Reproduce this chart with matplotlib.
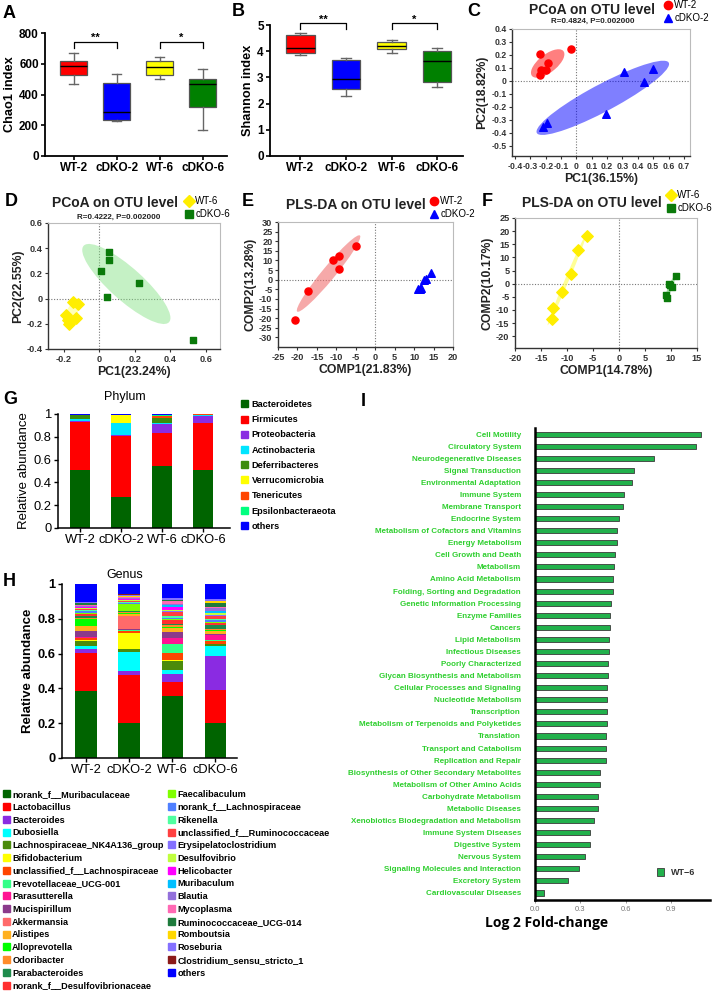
import numpy as np
import matplotlib.pyplot as plt
import matplotlib.transforms as transforms
from matplotlib.patches import Ellipse, Patch
from matplotlib.lines import Line2D
from matplotlib.ticker import FuncFormatter

plt.rcParams['font.family'] = ['Liberation Sans', 'DejaVu Sans']

# ---------------- data ----------------
groups = ['WT-2', 'cDKO-2', 'WT-6', 'cDKO-6']
box_colors = ['#ff0000', '#0000ff', '#ffff00', '#008000']

# A: Chao1 (min, q1, median, q3, max)
chao1_min = [470, 227, 499, 166]
chao1_q1 = [525, 233, 525, 316]
chao1_med = [585, 288, 578, 469]
chao1_q3 = [621, 473, 619, 501]
chao1_max = [668, 534, 643, 569]

# B: Shannon
shannon_min = [3.85, 2.30, 3.92, 2.63]
shannon_q1 = [3.95, 2.54, 4.08, 2.81]
shannon_med = [4.11, 2.95, 4.18, 3.62]
shannon_q3 = [4.62, 3.66, 4.37, 4.02]
shannon_max = [4.71, 3.75, 4.41, 4.13]

# C: PCoA WT-2 vs cDKO-2
c_wt_x = [-0.24, -0.035, -0.187, -0.23, -0.196, -0.237]
c_wt_y = [0.21, 0.245, 0.134, 0.083, 0.085, 0.046]
c_ko_x = [0.498, 0.307, 0.439, 0.19, -0.189, -0.215]
c_ko_y = [0.095, 0.067, -0.01, -0.258, -0.325, -0.356]

# D: PCoA WT-6 vs cDKO-6
d_wt_x = [-0.15, -0.12, -0.19, -0.18, -0.13, -0.17]
d_wt_y = [-0.03, -0.04, -0.13, -0.17, -0.15, -0.20]
d_ko_x = [0.056, 0.052, 0.009, 0.223, 0.043, 0.528]
d_ko_y = [0.371, 0.305, 0.218, 0.124, 0.011, -0.332]

# E: PLS-DA WT-2 vs cDKO-2
e_wt_x = [-4.9, -9.2, -10.8, -9.2, -17.2, -20.7]
e_wt_y = [17.6, 12.4, 10.3, 5.6, -5.8, -20.9]
e_ko_x = [14.4, 13.0, 12.5, 11.7, 11.0, 11.4]
e_ko_y = [3.7, 0.2, -0.2, -4.2, -4.7, -4.9]

# F: PLS-DA WT-6 vs cDKO-6
f_wt_x = [-6.2, -7.9, -9.3, -10.9, -12.7, -12.9]
f_wt_y = [18.2, 13.0, 3.7, -3.0, -9.3, -13.3]
f_ko_x = [11.0, 9.6, 10.1, 9.9, 9.1, 9.3]
f_ko_y = [2.9, -0.2, -1.1, -0.7, -4.4, -5.6]

# G: phylum
phyla = ['Bacteroidetes', 'Firmicutes', 'Proteobacteria', 'Actinobacteria',
         'Deferribacteres', 'Verrucomicrobia', 'Tenericutes',
         'Epsilonbacteraeota', 'others']
phylum_colors = ['#006400', '#ff0000', '#8a2be2', '#00e5ff', '#3c8c0c',
                 '#ffff00', '#ff4500', '#00ff7f', '#0000ff']
phylum_wt2 = [.512, .415, .013, .012, .035, .003, .002, .002, .006]
phylum_cdko2 = [.269, .535, .015, .102, .003, .064, .002, .001, .009]
phylum_wt6 = [.547, .286, .079, .009, .041, .002, .021, .009, .006]
phylum_cdko6 = [.512, .409, .059, .012, .002, .001, .001, .001, .003]

# H: genus
genera = ['norank_f__Muribaculaceae', 'Lactobacillus', 'Bacteroides', 'Dubosiella',
          'Lachnospiraceae_NK4A136_group', 'Bifidobacterium',
          'unclassified_f__Lachnospiraceae', 'Prevotellaceae_UCG-001',
          'Parasutterella', 'Mucispirillum', 'Akkermansia', 'Alistipes',
          'Alloprevotella', 'Odoribacter', 'Parabacteroides',
          'norank_f__Desulfovibrionaceae', 'Faecalibaculum',
          'norank_f__Lachnospiraceae', 'Rikenella',
          'unclassified_f__Ruminococcaceae', 'Erysipelatoclostridium',
          'Desulfovibrio', 'Helicobacter', 'Muribaculum', 'Blautia',
          'Mycoplasma', 'Ruminococcaceae_UCG-014', 'Romboutsia', 'Roseburia',
          'Clostridium_sensu_stricto_1', 'others']
genus_colors = ['#006400', '#ff0000', '#8a2be2', '#00ffff', '#4b8b0b', '#ffff00',
                '#ff4500', '#33ff88', '#ff1493', '#8b3a8b', '#ff6a6a', '#ffb01f',
                '#00ff00', '#ff8c2a', '#1e8b4c', '#ff3030', '#7fff00', '#4f7fff',
                '#4fffa0', '#ff4040', '#8470ff', '#c0ff3e', '#ff00ff', '#00bfff',
                '#9370db', '#ff69b4', '#1e7b3c', '#ffd700', '#8470ff', '#8b1a1a',
                '#0000ff']
genus_wt2 = [.386, .220, .021, .019, .029, .003, .010, .004, .004, .034, .002, .028,
             .037, .010, .010, .010, .004, .012, .006, .006, .003, .004, .003, .005,
             .004, .005, .010, .002, .003, .002, .104]
genus_cdko2 = [.200, .278, .023, .111, .013, .096, .007, .007, .003, .002, .078, .012,
               .003, .006, .004, .004, .038, .005, .004, .006, .005, .004, .002, .004,
               .006, .003, .002, .006, .006, .004, .058]
genus_wt6 = [.354, .080, .050, .023, .053, .002, .042, .054, .032, .033, .004, .020,
             .004, .012, .008, .022, .003, .010, .010, .025, .004, .008, .014, .010,
             .006, .020, .005, .002, .008, .002, .080]
genus_cdko6 = [.200, .188, .199, .059, .010, .002, .013, .008, .027, .005, .003, .015,
               .004, .008, .025, .012, .003, .012, .008, .015, .006, .010, .004, .010,
               .016, .006, .025, .012, .006, .003, .086]

# I: KEGG log2 fold change
pathways = ['Cell Motility', 'Circulatory System', 'Neurodegenerative Diseases',
            'Signal Transduction', 'Environmental Adaptation', 'Immune System',
            'Membrane Transport', 'Endocrine System',
            'Metabolism of Cofactors and Vitamins', 'Energy Metabolism',
            'Cell Growth and Death', 'Metabolism', 'Amino Acid Metabolism',
            'Folding, Sorting and Degradation', 'Genetic Information Processing',
            'Enzyme Families', 'Cancers', 'Lipid Metabolism', 'Infectious Diseases',
            'Poorly Characterized', 'Glycan Biosynthesis and Metabolism',
            'Cellular Processes and Signaling', 'Nucleotide Metabolism',
            'Transcription', 'Metabolism of Terpenoids and Polyketides',
            'Translation', 'Transport and Catabolism', 'Replication and Repair',
            'Biosynthesis of Other Secondary Metabolites',
            'Metabolism of Other Amino Acids', 'Carbohydrate Metabolism',
            'Metabolic Diseases', 'Xenobiotics Biodegradation and Metabolism',
            'Immune System Diseases', 'Digestive System', 'Nervous System',
            'Signaling Molecules and Interaction', 'Excretory System',
            'Cardiovascular Diseases']
log2fc = [1.10, 1.066, 0.79, 0.655, 0.64, 0.587, 0.58, 0.558, 0.543, 0.541,
          0.528, 0.523, 0.519, 0.514, 0.505, 0.497, 0.497, 0.492, 0.49, 0.486,
          0.486, 0.479, 0.479, 0.477, 0.475, 0.47, 0.468, 0.468, 0.428, 0.428,
          0.417, 0.415, 0.39, 0.364, 0.362, 0.329, 0.289, 0.219, 0.062]

# ---------------- figure ----------------
W, H = 715, 992
fig = plt.figure(figsize=(W / 100, H / 100), dpi=100)


def rect(l, t, r, b):
    return [l / W, 1 - b / H, (r - l) / W, (b - t) / H]


def ftext(x, y, s, **kw):
    fig.text(x / W, 1 - y / H, s, **kw)


def panel_letter(x, y, s):
    ftext(x, y, s, fontsize=13, fontweight='bold', va='center', ha='left')


# ---- A, B boxplots ----
def box_panel(ax, lo, q1, med, q3, hi, ylim, yticks, ylabel):
    pos = np.arange(1, 5)
    stats = [dict(whislo=lo[i], q1=q1[i], med=med[i], q3=q3[i], whishi=hi[i])
             for i in range(4)]
    bp = ax.bxp(stats, positions=pos, widths=0.62, patch_artist=True,
                showfliers=False, capwidths=0.22,
                boxprops=dict(edgecolor='#555555', lw=0.9),
                medianprops=dict(color='black', lw=1.0),
                whiskerprops=dict(color='#666666', lw=1.0),
                capprops=dict(color='#666666', lw=1.0))
    for patch, c in zip(bp['boxes'], box_colors):
        patch.set_facecolor(c)
    ax.set_xlim(0.33, 4.57)
    ax.set_ylim(*ylim)
    ax.set_yticks(yticks)
    ax.set_xticks(pos)
    ax.set_xticklabels(groups, fontsize=8.2, fontweight='bold')
    ax.set_ylabel(ylabel, fontsize=9.2, fontweight='bold', labelpad=2)
    for s in ['top', 'right']:
        ax.spines[s].set_visible(False)
    for s in ['left', 'bottom']:
        ax.spines[s].set_linewidth(1.3)
    ax.tick_params(labelsize=8.5, width=1.2, length=3, pad=1.5)
    for t in ax.get_yticklabels():
        t.set_fontweight('bold')


def bracket(ax, x1, x2, ytop, yleg, ytxt, txt):
    ax.plot([x1, x1, x2, x2], [yleg, ytop, ytop, yleg], color='black', lw=0.9,
            clip_on=False)
    ax.text((x1 + x2) / 2, ytxt, txt, ha='center', va='center', fontsize=8,
            fontweight='bold')


axA = fig.add_axes(rect(45, 33, 227, 156))
box_panel(axA, chao1_min, chao1_q1, chao1_med, chao1_q3, chao1_max,
          (0, 800), [0, 200, 400, 600, 800], 'Chao1 index')
bracket(axA, 1, 2, 739, 702, 770, '**')
bracket(axA, 3, 4, 739, 702, 770, '*')

axB = fig.add_axes(rect(270, 25, 463, 156))
box_panel(axB, shannon_min, shannon_q1, shannon_med, shannon_q3, shannon_max,
          (0, 5), [0, 1, 2, 3, 4, 5], 'Shannon index')
bracket(axB, 1, 2, 5.06, 4.83, 5.2, '**')
bracket(axB, 3, 4, 5.06, 4.83, 5.2, '*')

panel_letter(3, 14, 'A')
panel_letter(232, 12, 'B')


# ---- scatter panels ----
def conf_ellipse(ax, x, y, n_std, **kw):
    x = np.asarray(x)
    y = np.asarray(y)
    cov = np.cov(x, y)
    pearson = cov[0, 1] / np.sqrt(cov[0, 0] * cov[1, 1])
    ell = Ellipse((0, 0), width=2 * np.sqrt(1 + pearson),
                  height=2 * np.sqrt(1 - pearson), **kw)
    tr = (transforms.Affine2D().rotate_deg(45)
          .scale(np.sqrt(cov[0, 0]) * n_std, np.sqrt(cov[1, 1]) * n_std)
          .translate(x.mean(), y.mean()))
    ell.set_transform(tr + ax.transData)
    ax.add_patch(ell)


fmt = FuncFormatter(lambda v, p: '0' if abs(v) < 1e-9 else f'{v:g}')


def scatter_axes(ax, xlim, ylim, xticks, yticks, xlabel, ylabel, tsize=6.6):
    ax.set_xlim(*xlim)
    ax.set_ylim(*ylim)
    ax.set_xticks(xticks)
    ax.set_yticks(yticks)
    ax.xaxis.set_major_formatter(fmt)
    ax.yaxis.set_major_formatter(fmt)
    ax.axhline(0, color='#777777', lw=0.8, ls=(0, (1, 1.5)), zorder=0)
    ax.axvline(0, color='#777777', lw=0.8, ls=(0, (1, 1.5)), zorder=0)
    for s in ['top', 'right']:
        ax.spines[s].set_color('#bbbbbb')
        ax.spines[s].set_linewidth(0.8)
    for s in ['left', 'bottom']:
        ax.spines[s].set_color('#333333')
        ax.spines[s].set_linewidth(1.0)
    ax.tick_params(labelsize=tsize, length=2.5, width=0.8, pad=1.5,
                   color='#333333')
    for t in ax.get_xticklabels() + ax.get_yticklabels():
        t.set_fontweight('bold')
        t.set_color('#333333')
    ax.set_xlabel(xlabel, fontsize=8.8, fontweight='bold', labelpad=2,
                  color='#222222')
    ax.set_ylabel(ylabel, fontsize=8.8, fontweight='bold', labelpad=2,
                  color='#222222')


def side_legend(x, y, items):
    handles = [Line2D([], [], ls='none', marker=m, color=c, markersize=ms)
               for m, c, ms in items[0]]
    fig.legend(handles, items[1], loc='upper left',
               bbox_to_anchor=(x / W, 1 - y / H), frameon=False,
               fontsize=7, handlelength=0.8, handletextpad=0.25,
               labelspacing=0.35, borderpad=0, borderaxespad=0)


# C
axC = fig.add_axes(rect(512, 29, 690, 156))
conf_ellipse(axC, c_wt_x, c_wt_y, 1.4, facecolor='#ff0000', alpha=0.5, lw=0)
conf_ellipse(axC, c_ko_x, c_ko_y, 1.4, facecolor='#0000ff', alpha=0.5, lw=0)
axC.scatter(c_wt_x, c_wt_y, s=26, marker='o', color='#ff0000', zorder=3)
axC.scatter(c_ko_x, c_ko_y, s=30, marker='^', color='#0000ff', zorder=3)
scatter_axes(axC, (-0.42, 0.74), (-0.58, 0.4), np.round(np.arange(-0.4, 0.71, 0.1), 1),
             np.round(np.arange(-0.5, 0.41, 0.1), 1), 'PC1(36.15%)', 'PC2(18.82%)',
             tsize=6.2)
ftext(592, 10, 'PCoA on OTU level', fontsize=10, fontweight='bold', ha='center',
      va='center', color='#222222')
ftext(593, 21, 'R=0.4824, P=0.002000', fontsize=5.8, fontweight='bold',
      ha='center', va='center', color='#222222')
side_legend(664, 0, ([('o', '#ff0000', 6), ('^', '#0000ff', 6)], ['WT-2', 'cDKO-2']))
panel_letter(467, 12, 'C')

# D
axD = fig.add_axes(rect(48, 223, 220, 349))
conf_ellipse(axD, d_ko_x, d_ko_y, 1.25, facecolor='#7fe07f', alpha=0.45, lw=0)
conf_ellipse(axD, d_wt_x, d_wt_y, 1.4, facecolor='#ffff60', alpha=0.45, lw=0)
axD.scatter(d_wt_x, d_wt_y, s=34, marker='D', color='#ffee00', zorder=3)
axD.scatter(d_ko_x, d_ko_y, s=22, marker='s', color='#0a7a0a', zorder=3)
scatter_axes(axD, (-0.29, 0.68), (-0.4, 0.6), [-0.2, 0, 0.2, 0.4, 0.6],
             [-0.4, -0.2, 0, 0.2, 0.4, 0.6], 'PC1(23.24%)', 'PC2(22.55%)')
ftext(115, 203, 'PCoA on OTU level', fontsize=10, fontweight='bold', ha='center',
      va='center', color='#222222')
ftext(119, 217, 'R=0.4222, P=0.002000', fontsize=5.8, fontweight='bold',
      ha='center', va='center', color='#222222')
side_legend(185, 196, ([('D', '#ffee00', 6), ('s', '#0a7a0a', 5.5)], ['WT-6', 'cDKO-6']))
panel_letter(5, 202, 'D')

# E
axE = fig.add_axes(rect(278, 222, 453, 347))
conf_ellipse(axE, e_wt_x, e_wt_y, 1.4, facecolor='#f07070', alpha=0.6, lw=0)
conf_ellipse(axE, e_ko_x, e_ko_y, 1.4, facecolor='#6060ff', alpha=0.6, lw=0)
axE.scatter(e_wt_x, e_wt_y, s=26, marker='o', color='#ff0000', zorder=3)
axE.scatter(e_ko_x, e_ko_y, s=30, marker='^', color='#0000ff', zorder=3)
scatter_axes(axE, (-25, 20), (-35, 30), np.arange(-25, 21, 5), np.arange(-30, 31, 5),
             'COMP1(21.83%)', 'COMP2(13.28%)')
ftext(356, 205, 'PLS-DA on OTU level', fontsize=10, fontweight='bold',
      ha='center', va='center', color='#222222')
side_legend(430, 196, ([('o', '#ff0000', 6), ('^', '#0000ff', 6)], ['WT-2', 'cDKO-2']))
panel_letter(242, 202, 'E')

# F
axF = fig.add_axes(rect(515, 218, 697, 348))
conf_ellipse(axF, f_wt_x, f_wt_y, 1.4, facecolor='#ffff50', alpha=0.6, lw=0)
conf_ellipse(axF, f_ko_x, f_ko_y, 1.4, facecolor='#70d070', alpha=0.6, lw=0)
axF.scatter(f_wt_x, f_wt_y, s=34, marker='D', color='#ffee00', zorder=3)
axF.scatter(f_ko_x, f_ko_y, s=22, marker='s', color='#0a7a0a', zorder=3)
scatter_axes(axF, (-20, 15), (-24.5, 25), np.arange(-20, 16, 5), np.arange(-20, 26, 5),
             'COMP1(14.78%)', 'COMP2(10.17%)')
ftext(592, 203, 'PLS-DA on OTU level', fontsize=10, fontweight='bold',
      ha='center', va='center', color='#222222')
side_legend(667, 190, ([('D', '#ffee00', 6), ('s', '#0a7a0a', 5.5)], ['WT-6', 'cDKO-6']))
panel_letter(482, 202, 'F')


# ---- G, H stacked bars ----
def stacked(ax, table, colors, xlim, bold):
    pos = np.arange(1, 5)
    bottom = np.zeros(4)
    for k, c in enumerate(colors):
        vals = np.array([col[k] for col in table])
        ax.bar(pos, vals, bottom=bottom, width=0.5, color=c, lw=0)
        bottom += vals
    ax.set_xlim(*xlim)
    ax.set_ylim(0, 1)
    ax.set_xticks(pos)
    ax.set_xticklabels(groups, fontsize=9)
    ax.set_yticks([0, 0.2, 0.4, 0.6, 0.8, 1])
    ax.set_yticklabels(['0', '0.2', '0.4', '0.6', '0.8', '1'])
    for s in ['top', 'right']:
        ax.spines[s].set_visible(False)
    for s in ['left', 'bottom']:
        ax.spines[s].set_linewidth(1.1)
    ax.tick_params(labelsize=9.3, width=1.0, length=3, pad=1.5)
    w = 'bold' if bold else 'normal'
    for t in ax.get_yticklabels():
        t.set_fontweight(w)
    ax.set_ylabel('Relative abundance', fontsize=9.5, fontweight=w, labelpad=3)


axG = fig.add_axes(rect(58, 414, 230, 528))
stacked(axG, [phylum_wt2, phylum_cdko2, phylum_wt6, phylum_cdko6], phylum_colors,
        (0.46, 4.66), False)
ftext(125, 397, 'Phylum', fontsize=9, ha='center', va='center')
panel_letter(3, 400, 'G')
fig.legend([Patch(color=c) for c in phylum_colors], phyla, loc='upper left',
           bbox_to_anchor=(241 / W, 1 - 400 / H), frameon=False,
           prop=dict(size=6.6, weight='bold'), handlelength=0.8, handleheight=0.8,
           handletextpad=0.35, labelspacing=0.68, borderpad=0, borderaxespad=0)

axH = fig.add_axes(rect(62, 584, 237, 758))
stacked(axH, [genus_wt2, genus_cdko2, genus_wt6, genus_cdko6], genus_colors,
        (0.44, 4.5), True)
ftext(125, 575, 'Genus', fontsize=9, ha='center', va='center')
panel_letter(3, 582, 'H')
gh = [Patch(color=c) for c in genus_colors]
fig.legend(gh[:16], genera[:16], loc='upper left',
           bbox_to_anchor=(3 / W, 1 - 790 / H), frameon=False,
           prop=dict(size=6.6, weight='bold'), handlelength=0.8, handleheight=0.8,
           handletextpad=0.2, labelspacing=0.41, borderpad=0, borderaxespad=0)
fig.legend(gh[16:], genera[16:], loc='upper left',
           bbox_to_anchor=(168 / W, 1 - 790 / H), frameon=False,
           prop=dict(size=6.6, weight='bold'), handlelength=0.8, handleheight=0.8,
           handletextpad=0.2, labelspacing=0.41, borderpad=0, borderaxespad=0)

# ---- I fold change bars ----
axI = fig.add_axes(rect(535, 428, 710, 900))
ypos = np.arange(len(pathways))
axI.barh(ypos, log2fc, height=0.42, color='#22b14c', edgecolor='#3a3a3a', lw=0.6,
         label='WT\u22126')
axI.set_ylim(len(pathways) - 0.42, -0.5)
axI.set_xlim(0, 1.16)
axI.set_yticks(ypos)
axI.set_yticklabels(pathways, fontsize=5.8, fontweight='bold', color='#2fcf2f')
axI.set_xticks([0, 0.3, 0.6, 0.9])
axI.set_xticklabels(['0.0', '0.3', '0.6', '0.9'])
axI.tick_params(axis='y', length=0, pad=10)
axI.tick_params(axis='x', length=2, width=0.6, color='#888888', labelsize=5.5,
                labelcolor='#777777', pad=2)
for s in ['top', 'right']:
    axI.spines[s].set_visible(False)
for s in ['left', 'bottom']:
    axI.spines[s].set_linewidth(1.8)
ftext(547, 923, 'Log 2 Fold-change', fontsize=10, fontweight='bold', ha='center',
      va='center', family=['Open Sans', 'DejaVu Sans'])
axI.legend(loc='upper left', bbox_to_anchor=((657 - 535) / 175, 1 - (868 - 428) / 472),
           frameon=False, prop=dict(size=6.5, weight='bold'), handlelength=0.8,
           handleheight=0.9, handletextpad=0.8, borderpad=0, borderaxespad=0,
           labelcolor='#333333')
panel_letter(361, 402, 'I')

fig.savefig('out.png', dpi=100)
